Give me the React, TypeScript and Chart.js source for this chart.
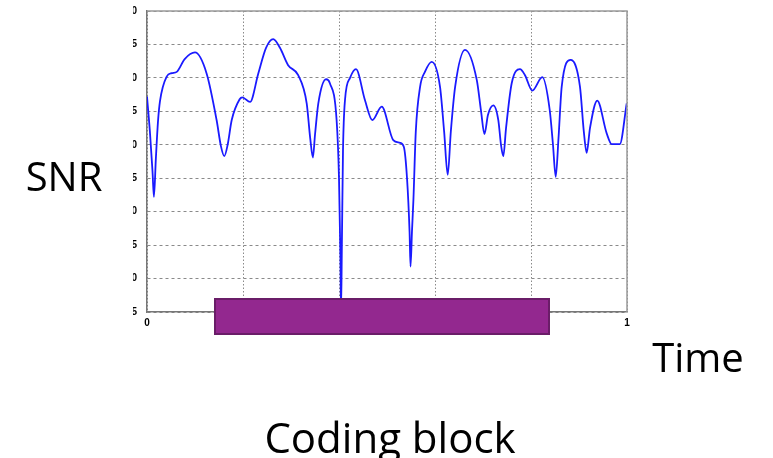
import React, { useEffect, useRef } from "react";
import { Chart, registerables } from "chart.js";

Chart.register(...registerables);

// time (normalized 0..1) and SNR readings
const timeValues = [
  0.0, 0.006, 0.0115, 0.0144, 0.0185, 0.0229, 0.027, 0.041, 0.0515, 0.062, 0.0785, 0.1, 0.124, 0.145, 0.154, 0.161,
  0.168, 0.1765, 0.193, 0.1985, 0.2146, 0.232, 0.248, 0.263, 0.277, 0.294, 0.315, 0.3327, 0.34, 0.3456, 0.35, 0.3569,
  0.373, 0.381, 0.395, 0.4, 0.403, 0.4042, 0.406, 0.4083, 0.4125, 0.423, 0.4354, 0.454, 0.4694, 0.489, 0.513, 0.527,
  0.535, 0.5417, 0.547, 0.549, 0.552, 0.555, 0.56, 0.569, 0.579, 0.593, 0.6104, 0.619, 0.6265, 0.633, 0.642, 0.6625,
  0.687, 0.696, 0.703, 0.7104, 0.7215, 0.7319, 0.7375, 0.7423, 0.748, 0.7598, 0.777, 0.7875, 0.8027, 0.8235, 0.839,
  0.8458, 0.8515, 0.8573, 0.864, 0.8827, 0.902, 0.91, 0.916, 0.9229, 0.938, 0.9577, 0.968, 0.985, 0.9994,
];
const snrValues = [
  27.2, 22, 16, 12.2, 18, 23.5, 26.5, 30.2, 30.7, 30.9, 32.8, 33.8, 30.7, 23.7, 19.8, 18.3,
  20, 23.7, 26.8, 27.1, 26.4, 30.7, 34.5, 35.8, 34.5, 31.9, 30.4, 26.2, 21, 18.1, 21.5, 26.2,
  29.8, 29.2, 23.7, 15, 3, -5, 5, 19, 26.7, 30, 31.3, 26.7, 23.7, 25.7, 20.7, 20.3,
  19.7, 15, 7, 1.8, 7, 11.7, 22, 28.7, 30.9, 32.4, 28.7, 22, 15.5, 22, 28.7, 34.2,
  29.7, 25, 21.6, 24.5, 25.9, 23.7, 20, 18.3, 22.5, 29.2, 31.3, 30.4, 28.1, 30.1, 25.2,
  20, 15.2, 21, 28.7, 32.7, 28.7, 22, 18.8, 22.5, 26.6, 21.7, 20.1, 20.1, 26.2,
];
const yTickMin = -5;
const yTickMax = 40;
const yTickStep = 5;
const xTickStep = 0.2;
const xTickLabels = ["0", "1"];
const yAxisTitle = "SNR";
const xAxisTitle = "Time";
const blockLabel = "Coding block";

export default function App() {
  const canvasRef = useRef<HTMLCanvasElement | null>(null);

  useEffect(() => {
    const canvas = canvasRef.current;
    if (!canvas) return;
    const points = timeValues.map((t, i) => ({ x: t, y: snrValues[i] }));

    const framePlugin = {
      id: "framePlugin",
      afterDraw(chart: any) {
        const { ctx, chartArea } = chart;
        ctx.save();
        // the y tick labels are cut off on their left side in the reference
        ctx.fillStyle = "#ffffff";
        ctx.fillRect(0, 0, 133, chartArea.bottom + 4);
        // top and right frame
        ctx.strokeStyle = "#9a9a9a";
        ctx.lineWidth = 1.5;
        ctx.setLineDash([]);
        ctx.beginPath();
        ctx.moveTo(chartArea.left, chartArea.top);
        ctx.lineTo(chartArea.right, chartArea.top);
        ctx.lineTo(chartArea.right, chartArea.bottom);
        ctx.stroke();
        ctx.restore();
      },
    };

    const chart = new Chart(canvas, {
      type: "line",
      data: {
        datasets: [
          {
            data: points,
            borderColor: "#1a1aff",
            borderWidth: 1.8,
            pointRadius: 0,
            fill: false,
            cubicInterpolationMode: "monotone",
          },
        ],
      },
      options: {
        animation: false,
        responsive: false,
        maintainAspectRatio: false,
        events: [],
        layout: { padding: { left: 0, top: 11, right: 146, bottom: 126 } },
        plugins: { legend: { display: false }, tooltip: { enabled: false } },
        scales: {
          x: {
            type: "linear",
            min: 0,
            max: 1,
            afterFit: (s: any) => {
              s.height = 20;
              s.paddingLeft = 0;
              s.paddingRight = 0;
            },
            ticks: {
              stepSize: xTickStep,
              padding: 5,
              color: "#000",
              font: { family: "Liberation Sans", size: 10, weight: "bold" },
              maxRotation: 0,
              autoSkip: false,
              callback: (v: any) => (v === 0 ? xTickLabels[0] : v === 1 ? xTickLabels[1] : ""),
            },
            grid: { color: "#8a8a8a", lineWidth: 1, drawTicks: false },
            border: { display: true, color: "#777", width: 1.5, dash: [1.5, 2] },
          },
          y: {
            min: yTickMin,
            max: yTickMax,
            afterFit: (s: any) => {
              s.width = 147;
              s.paddingTop = 0;
              s.paddingBottom = 0;
            },
            ticks: {
              stepSize: yTickStep,
              padding: 10,
              color: "#000",
              font: { family: "Liberation Sans", size: 10, weight: "bold" },
            },
            grid: { color: "#8a8a8a", lineWidth: 1, drawTicks: false },
            border: { display: true, color: "#777", width: 1.5, dash: [3, 3] },
          },
        },
      },
      plugins: [framePlugin],
    } as any);

    return () => chart.destroy();
  }, []);

  const textStyle = (left: number, top: number, size: number): React.CSSProperties => ({
    position: "absolute",
    left,
    top,
    transform: "translate(-50%,-50%)",
    font: `${size}px 'Open Sans'`,
    color: "#000",
    whiteSpace: "nowrap",
  });

  return (
    <div style={{ position: "fixed", left: 0, top: 0, width: 773, height: 458, background: "#fff", overflow: "hidden" }}>
      <canvas ref={canvasRef} width={773} height={458} style={{ position: "absolute", left: 0, top: 0, width: 773, height: 458 }} />
      <div
        style={{
          position: "absolute",
          left: 214,
          top: 298,
          width: 336,
          height: 37,
          boxSizing: "border-box",
          background: "#93288f",
          border: "2px solid #6a1d68",
        }}
      />
      <div style={textStyle(64, 175, 40)}>{yAxisTitle}</div>
      <div style={textStyle(698, 356, 40)}>{xAxisTitle}</div>
      <div style={textStyle(390, 436, 42)}>{blockLabel}</div>
    </div>
  );
}
